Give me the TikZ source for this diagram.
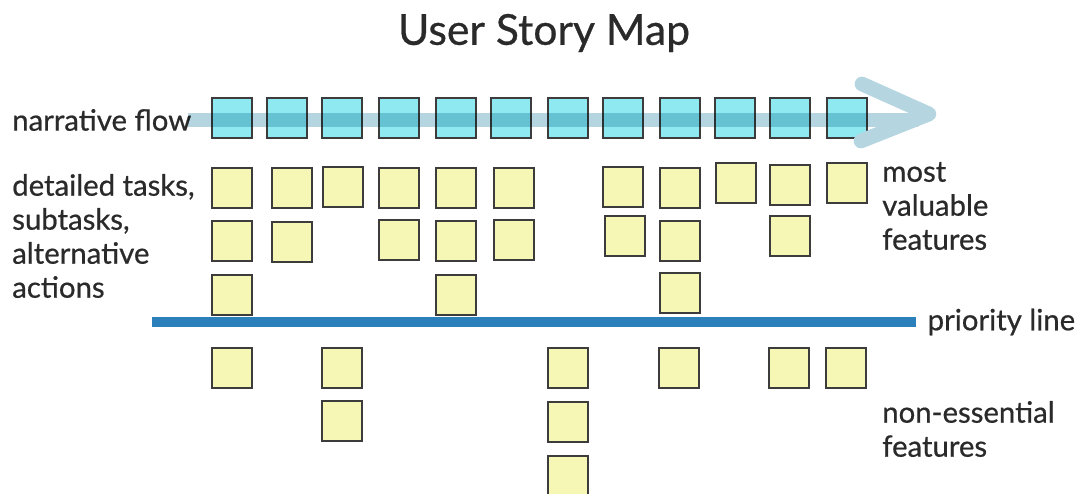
\documentclass[tikz,border=0pt]{standalone}
\usepackage{fontspec}
\setmainfont{Lato}[FakeBold=0.6]
\definecolor{cardblue}{HTML}{8FE9F1}
\definecolor{cardyellow}{HTML}{F7F7B5}
\definecolor{flowband}{HTML}{B5D5E0}
\definecolor{prioline}{HTML}{2B7FBA}
\definecolor{inkgray}{HTML}{2A2A2A}
\definecolor{cardedge}{HTML}{3C3C3C}
\begin{document}
\begin{tikzpicture}[x=0.75pt,y=-0.75pt,
	card/.style={rectangle, draw=cardedge, line width=0.8pt, inner sep=0pt, minimum size=30pt},
	story/.style={card, fill=cardblue},
	task/.style={card, fill=cardyellow},
	caption/.style={text=inkgray, font=\fontsize{22}{25.5}\selectfont, align=left, anchor=west, inner sep=0pt},
	title/.style={text=inkgray, font=\fontsize{32}{38}\selectfont, inner sep=0pt}]

	\useasboundingbox (0,0) rectangle (1080,493);

	\node 	(head)	at	(544,33)	[title]{User Story Map};

	\node 	(flow)	at	(12,120)	[caption]{narrative flow};
	\node 	(tasks)	at	(12,236)	[caption]{detailed tasks,\\subtasks,\\alternative\\actions};
	\node 	(most)	at	(882,206)	[caption]{most\\valuable\\features};
	\node 	(rest)	at	(882,429)	[caption]{non-essential\\features};

	% narrative flow
	\node 	(n1)	at	(232,118)	[story]{};
	\node 	(n2)	at	(287,118)	[story]{};
	\node 	(n3)	at	(342,118)	[story]{};
	\node 	(n4)	at	(399,118)	[story]{};
	\node 	(n5)	at	(456,118)	[story]{};
	\node 	(n6)	at	(511,118)	[story]{};
	\node 	(n7)	at	(568,118)	[story]{};
	\node 	(n8)	at	(623,118)	[story]{};
	\node 	(n9)	at	(680,118)	[story]{};
	\node 	(n10)	at	(735,118)	[story]{};
	\node 	(n11)	at	(790,118)	[story]{};
	\node 	(n12)	at	(847,118)	[story]{};

	\coordinate 	(f0)	at	(188,120);
	\coordinate 	(fm)	at	(868,120);
	\coordinate 	(f1)	at	(918,120);
	\coordinate 	(h0)	at	(862,84);
	\coordinate 	(h1)	at	(929,114);
	\coordinate 	(h2)	at	(861,141);

	\begin{scope}[blend mode=multiply]
	\draw[flowband, line width=10.5pt]	(f0)	--	(fm);
	\end{scope}
	\draw[flowband, line width=10.5pt]	(n12.east |- fm)	--	(f1);
	\draw[flowband, line width=11pt, line cap=round, line join=round]	(h0)	--	(h1)	--	(h2);

	% tasks above the line
	\node 	(t11)	at	(232,188)	[task]{};
	\node 	(t12)	at	(292,188)	[task]{};
	\node 	(t13)	at	(343,187)	[task]{};
	\node 	(t14)	at	(399,188)	[task]{};
	\node 	(t15)	at	(456,188)	[task]{};
	\node 	(t16)	at	(514,188)	[task]{};
	\node 	(t18)	at	(623,187)	[task]{};
	\node 	(t19)	at	(680,188)	[task]{};
	\node 	(t110)	at	(736,183)	[task]{};
	\node 	(t111)	at	(790,185)	[task]{};
	\node 	(t112)	at	(847,183)	[task]{};

	\node 	(t21)	at	(232,241)	[task]{};
	\node 	(t22)	at	(292,242)	[task]{};
	\node 	(t24)	at	(399,240)	[task]{};
	\node 	(t25)	at	(456,241)	[task]{};
	\node 	(t26)	at	(514,240)	[task]{};
	\node 	(t28)	at	(625,236)	[task]{};
	\node 	(t29)	at	(680,241)	[task]{};
	\node 	(t211)	at	(790,236)	[task]{};

	\node 	(t31)	at	(232,295)	[task]{};
	\node 	(t35)	at	(456,295)	[task]{};
	\node 	(t39)	at	(680,293)	[task]{};

	% priority line
	\coordinate 	(p0)	at	(152,322);
	\coordinate 	(p1)	at	(916,322);
	\draw[prioline, line width=7.5pt]	(p0)	--	(p1)	node[caption, right=5pt]{priority line};

	% tasks below the line
	\node 	(u11)	at	(232,368)	[task]{};
	\node 	(u13)	at	(342,368)	[task]{};
	\node 	(u17)	at	(568,368)	[task]{};
	\node 	(u19)	at	(679,368)	[task]{};
	\node 	(u111)	at	(789,368)	[task]{};
	\node 	(u112)	at	(846,368)	[task]{};

	\node 	(u23)	at	(342,421)	[task]{};
	\node 	(u27)	at	(568,422)	[task]{};

	\node 	(u37)	at	(568,476)	[task]{};

%	\node 	(u29)	at	(680,421)	[task]{};

\end{tikzpicture}
\end{document}
